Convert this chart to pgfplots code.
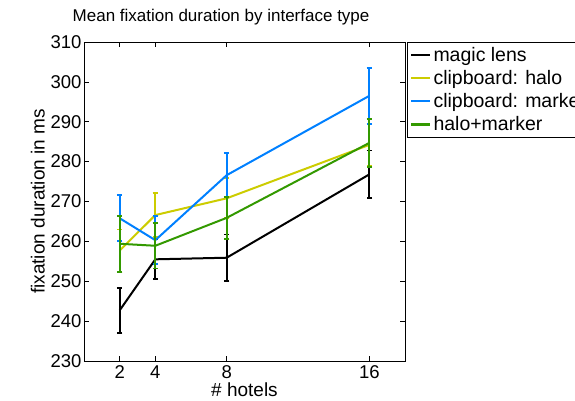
\documentclass[border=0pt]{standalone}
\usepackage{pgfplots}
\pgfplotsset{compat=1.18}
\usepackage{fontspec}
\setmainfont{Liberation Sans}

\definecolor{mlyellow}{RGB}{204,204,0}
\definecolor{mlblue}{RGB}{0,128,255}
\definecolor{mlgreen}{RGB}{51,153,0}

\begin{document}
\begin{tikzpicture}
\begin{axis}[
    at={(0pt,0pt)}, anchor=south west,
    width=321pt, height=319pt,
    scale only axis,
    xmin=0, xmax=18,
    ymin=230, ymax=310,
    xtick={2,4,8,16},
    ytick={230,240,...,310},
    tick align=inside,
    major tick length=5pt,
    axis line style={line width=0.8pt},
    tick style={line width=0.6pt, black},
    /pgf/number format/assume math mode=true,
    /pgf/number format/set thousands separator={},
    font=\fontsize{19}{22}\selectfont,
    tick label style={font=\fontsize{18.5}{21}\selectfont},
    xticklabel style={yshift=-1pt},
    yticklabel style={xshift=1pt},
    title={Mean fixation duration by interface type},
    title style={at={(0.427,1)}, anchor=base, yshift=15pt, font=\fontsize{17}{20}\selectfont},
    xlabel={\# hotels},
    ylabel={fixation duration in ms},
    xlabel style={yshift=3pt},
    ylabel style={yshift=-1pt},
    legend style={at={(1,1)}, anchor=north west, xshift=2pt,
        font=\fontsize{19.5}{22}\selectfont, draw=black, line width=0.6pt,
        inner sep=3pt, row sep=3.5pt, cells={anchor=west}},
    legend image code/.code={\draw[#1] (0pt,0pt) -- (19pt,0pt);},
    legend image post style={line width=2.2pt},
    every axis plot/.append style={line width=2pt},
    error bars/y dir=both,
    error bars/y explicit,
    error bars/error mark options={line width=1.8pt, mark size=2.7pt, rotate=90},
    error bars/error bar style={line width=1.8pt},
]
% magic lens
\addplot[black] table[x=x, y=y, y error=e] {
x y e
2 242.7 5.6
4 255.5 5.0
8 255.9 5.8
16 276.8 6.0
};
% clipboard: halo
\addplot[mlyellow] table[x=x, y=y, y error=e] {
x y e
2 257.7 5.3
4 266.6 5.6
8 270.8 5.0
16 284.2 5.2
};
% clipboard: marker
\addplot[mlblue] table[x=x, y=y, y error=e] {
x y e
2 265.8 5.8
4 260.3 6.0
8 276.6 5.5
16 296.5 7.0
};
% halo+marker
\addplot[mlgreen] table[x=x, y=y, y error=e] {
x y e
2 259.4 7.0
4 258.9 5.7
8 265.9 5.3
16 284.7 6.0
};
\legend{magic lens, clipboard: halo, clipboard: marker, halo+marker}
\end{axis}
\pgfresetboundingbox
\path[use as bounding box] (-84pt,-40pt) rectangle (491pt,361pt);
\end{tikzpicture}
\end{document}
